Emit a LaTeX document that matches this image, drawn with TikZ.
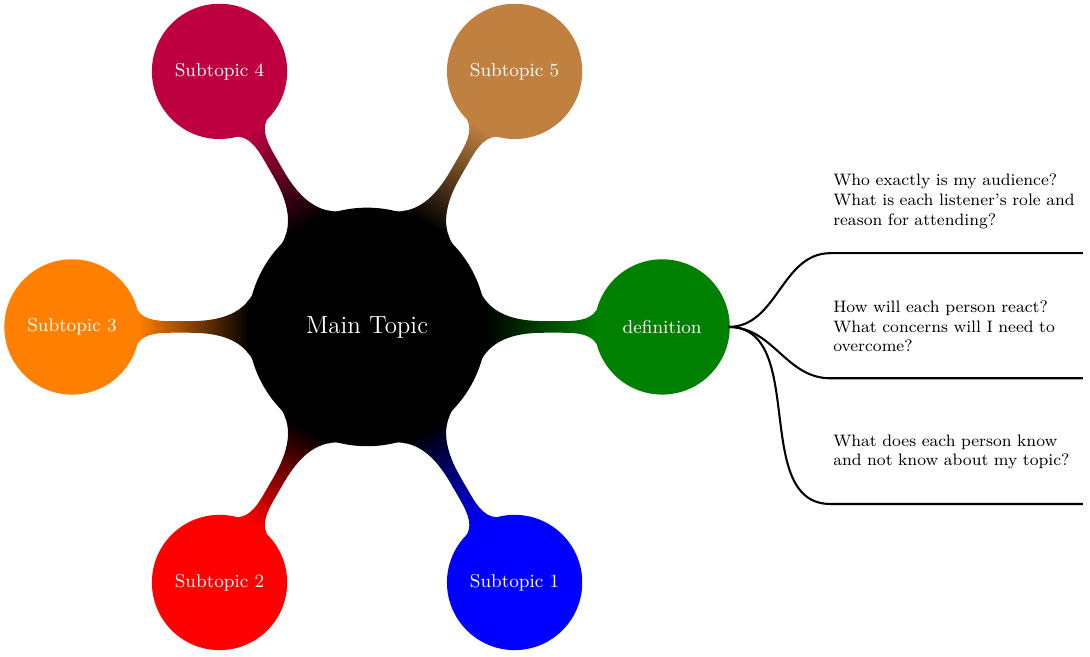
\documentclass[tikz,border=0pt]{standalone}
\usetikzlibrary{mindmap,calc}
\begin{document}
\begin{tikzpicture}[mindmap, concept color=black, text=white,
  level 1/.append style={level distance=5cm},
  note/.style={anchor=west, align=left, text width=4.4cm, font=\footnotesize, text=black, inner sep=0pt},
  branch/.style={draw=black, line width=1pt}]
\useasboundingbox (-6.22,-5.58) rectangle (12.25,5.54);
\node[concept] (main) {Main Topic}
  child[grow=0, concept color=green!50!black] {node[concept] (def) {definition}}
  child[grow=-60, concept color=blue] {node[concept] (s1) {Subtopic 1}}
  child[grow=-120, concept color=red] {node[concept] (s2) {Subtopic 2}}
  child[grow=180, concept color=orange] {node[concept] (s3) {Subtopic 3}}
  child[grow=120, concept color=purple] {node[concept] (s4) {Subtopic 4}}
  child[grow=60, concept color=brown] {node[concept] (s5) {Subtopic 5}};
\coordinate (a1) at (7.85,1.25);  \coordinate (b1) at (12.13,1.25);
\coordinate (a2) at (7.85,-0.87); \coordinate (b2) at (12.13,-0.87);
\coordinate (a3) at (7.85,-3.0);  \coordinate (b3) at (12.13,-3.0);
\draw[branch] (def.east) to[out=0,in=180] (a1) -- (b1);
\draw[branch] (def.east) to[out=0,in=180] (a2) -- (b2);
\draw[branch] (def.east) to[out=0,in=180] (a3) -- (b3);
\node[note] (t1) at ($(a1)+(0.05,0.88)$) {Who exactly is my audience?\\What is each listener's role and\\reason for attending?};
\node[note] (t2) at ($(a2)+(0.05,0.88)$) {How will each person react?\\What concerns will I need to\\overcome?};
\node[note] (t3) at ($(a3)+(0.05,0.88)$) {What does each person know\\and not know about my topic?};
\end{tikzpicture}
\end{document}
